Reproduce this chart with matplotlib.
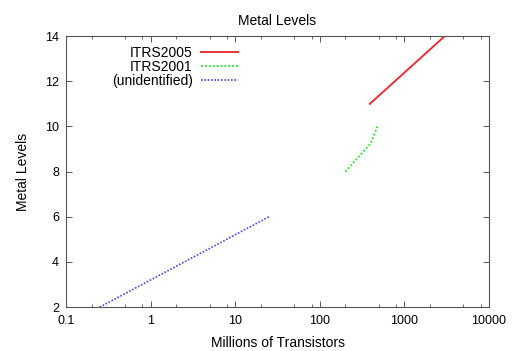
import matplotlib
matplotlib.use("Agg")
import matplotlib.pyplot as plt
import numpy as np
from matplotlib.ticker import LogLocator, NullFormatter

plt.rcParams["font.family"] = ["Liberation Sans", "DejaVu Sans"]
plt.rcParams["font.size"] = 9

# series
itrs2005_x = [390, 3000]
itrs2005_y = [11, 14]
itrs2001_x = [200, 400, 480]
itrs2001_y = [8, 9.25, 10]
unident_x = [0.25, 25]
unident_y = [2, 6]

x_ticks = [0.1, 1, 10, 100, 1000, 10000]
x_tick_labels = ["0.1", "1", "10", "100", "1000", "10000"]
y_ticks = [2, 4, 6, 8, 10, 12, 14]

fig = plt.figure(figsize=(5.12, 3.51), dpi=100)
ax = fig.add_axes([0.129, 0.125, 0.826, 0.772])

ax.plot(itrs2005_x, itrs2005_y, color="#e8303a", lw=1.4, ls="-", label="ITRS2005")
ax.plot(itrs2001_x, itrs2001_y, color="#40e040", lw=1.4, ls=(0, (1, 1)), label="ITRS2001")
ax.plot(unident_x, unident_y, color="#4848e0", lw=1.2, ls=(0, (1, 1)), label="(unidentified)")

ax.set_xscale("log")
ax.set_xlim(0.1, 10000)
ax.set_ylim(2, 14)
ax.set_xticks(x_ticks)
ax.set_xticklabels(x_tick_labels)
ax.xaxis.set_minor_locator(LogLocator(base=10, subs=(2.0, 5.0, 8.0)))
ax.xaxis.set_minor_formatter(NullFormatter())
ax.set_yticks(y_ticks)

ax.tick_params(which="both", direction="in", top=True, right=True, colors="#555555",
               labelcolor="black")
ax.tick_params(which="major", length=4, width=0.7)
ax.tick_params(axis="x", which="major", pad=6)
ax.tick_params(axis="y", which="major", pad=5)
ax.tick_params(which="minor", length=2.5, width=0.6)
for s in ax.spines.values():
    s.set_color("#555555")
    s.set_linewidth(0.8)

ax.set_title("Metal Levels", fontsize=10, pad=8)
ax.set_xlabel("Millions of Transistors", fontsize=10, labelpad=6)
ax.set_ylabel("Metal Levels", fontsize=10, labelpad=11)

ax.legend(loc="upper left", bbox_to_anchor=(0.085, 1.0), frameon=False, markerfirst=False,
          fontsize=10, handlelength=2.7, handletextpad=0.6, labelspacing=0.0,
          borderaxespad=0.3)

fig.savefig("out.png", dpi=100)
